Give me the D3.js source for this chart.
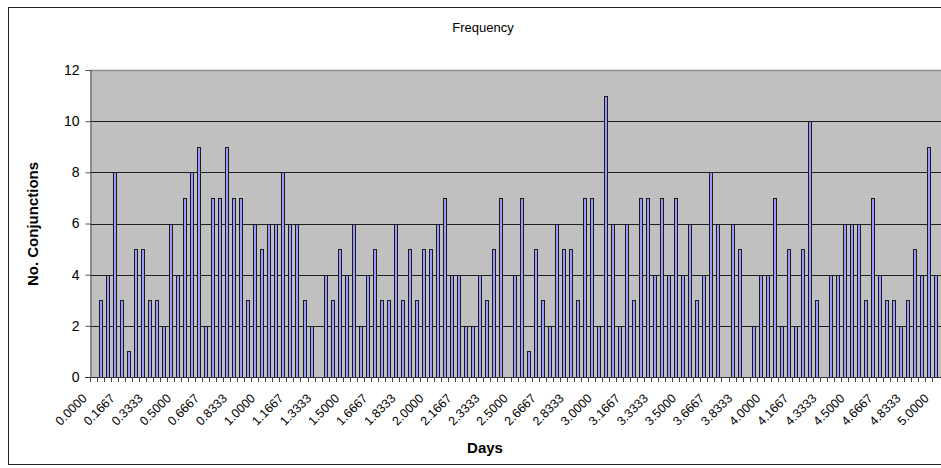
<!DOCTYPE html>
<html>
<head>
<meta charset="utf-8">
<script src="https://cdn.jsdelivr.net/npm/d3@7"></script>
<style>
  html, body { margin: 0; padding: 0; background: #fff; }
  svg { display: block; }
  text { font-family: "Liberation Sans", Arial, sans-serif; fill: #000; }
</style>
</head>
<body>
<svg id="chart" width="941" height="468"></svg>
<script>
// Days: one category per hour (1/24 day) from 0 to 5 days
const categoryStepDays = 1 / 24;
const categoryCount = 121;
const categories = d3.range(categoryCount).map(i => (i * categoryStepDays).toFixed(4));

// Number of conjunctions per category
const conjunctions = [
  0,3,4,8,3,1,5,5,3,3,2,6,4,7,8,9,2,7,7,9,7,7,3,6,5,6,
  6,8,6,6,3,2,0,4,3,5,4,6,2,4,5,3,3,6,3,5,3,5,5,6,
  7,4,4,2,2,4,3,5,7,0,4,7,1,5,3,2,6,5,5,3,7,7,2,11,
  6,2,6,3,7,7,4,7,4,7,4,6,3,4,8,6,0,6,5,0,2,4,4,7,2,
  5,2,5,10,3,0,4,4,6,6,6,3,7,4,3,3,2,3,5,4,9,4
];

const tickLabels = ["0.0000","0.1667","0.3333","0.5000","0.6667","0.8333","1.0000","1.1667","1.3333",
  "1.5000","1.6667","1.8333","2.0000","2.1667","2.3333","2.5000","2.6667","2.8333","3.0000","3.1667",
  "3.3333","3.5000","3.6667","3.8333","4.0000","4.1667","4.3333","4.5000","4.6667","4.8333","5.0000"];
const yTicks = [0, 2, 4, 6, 8, 10, 12];

const title = "Frequency";
const xTitle = "Days";
const yTitle = "No. Conjunctions";

const svg = d3.select("#chart");
const plot = { left: 90, right: 939, top: 70, bottom: 377 };

// outer chart border
svg.append("rect").attr("x", 8.5).attr("y", 7.5).attr("width", 960).attr("height", 457)
  .attr("fill", "#fff").attr("stroke", "#222").attr("stroke-width", 1);

const x = d3.scaleBand().domain(categories).range([plot.left, plot.right]).paddingInner(0).paddingOuter(0);
const y = d3.scaleLinear().domain([0, 12]).range([plot.bottom, plot.top]);

// plot area
svg.append("rect").attr("x", plot.left).attr("y", plot.top)
  .attr("width", plot.right - plot.left + 5).attr("height", plot.bottom - plot.top)
  .attr("fill", "#c0c0c0");
svg.append("line").attr("x1", plot.left).attr("x2", 941)
  .attr("y1", y(12) + 0.5).attr("y2", y(12) + 0.5).attr("stroke", "#8a8a8a").attr("stroke-width", 1.5);

// gridlines
svg.append("g").selectAll("line").data(yTicks.filter(d => d > 0 && d < 12)).join("line")
  .attr("x1", plot.left).attr("x2", 941)
  .attr("y1", d => Math.round(y(d)) + 0.5).attr("y2", d => Math.round(y(d)) + 0.5)
  .attr("stroke", "#1e1e1e").attr("stroke-width", 1);

// bars
const bw = 3;
svg.append("g").selectAll("rect").data(categories.map((c, i) => ({ c, v: conjunctions[i] })))
  .join("rect")
  .filter(d => d.v > 0)
  .attr("x", d => Math.round(x(d.c) + x.bandwidth() / 2 - bw / 2) + 0.5)
  .attr("y", d => Math.round(y(d.v)) + 0.5)
  .attr("width", bw)
  .attr("height", d => Math.round(y(0)) - Math.round(y(d.v)))
  .attr("fill", "#9999ff")
  .attr("stroke", "#1a1a1a")
  .attr("stroke-width", 1);

// y axis
const yAxis = d3.axisLeft(y).tickValues(yTicks).tickSize(5).tickPadding(6).tickFormat(d3.format("d"));
const gy = svg.append("g").attr("transform", `translate(${plot.left + 0.5},0)`).call(yAxis);
gy.select(".domain").attr("stroke", "#555");
gy.selectAll(".tick line").attr("stroke", "#555");
gy.selectAll("text").style("font-size", "14px").attr("fill", "#000");

// x axis: tick marks at category boundaries
const gx = svg.append("g");
gx.append("line").attr("x1", plot.left - 5).attr("x2", 941)
  .attr("y1", plot.bottom + 0.5).attr("y2", plot.bottom + 0.5).attr("stroke", "#333");
gx.selectAll("line.tk").data(categories).join("line").attr("class", "tk")
  .attr("x1", d => Math.round(x(d)) + 0.5).attr("x2", d => Math.round(x(d)) + 0.5)
  .attr("y1", plot.bottom).attr("y2", plot.bottom + 5)
  .attr("stroke", "#444");

// x tick labels (every 4th category)
gx.selectAll("text.lbl").data(tickLabels).join("text").attr("class", "lbl")
  .attr("transform", d => `translate(${x(d) + x.bandwidth() / 2 - 9},${plot.bottom + 19}) rotate(-45)`)
  .attr("text-anchor", "end")
  .attr("dy", "0.35em")
  .style("font-size", "12.5px")
  .text(d => d);

// titles
svg.append("text").attr("x", 483).attr("y", 32).attr("text-anchor", "middle")
  .style("font-size", "13px").text(title);
svg.append("text").attr("x", 485).attr("y", 453).attr("text-anchor", "middle")
  .style("font-size", "15px").style("font-weight", "bold").text(xTitle);
svg.append("text").attr("transform", "translate(38,224) rotate(-90)").attr("text-anchor", "middle")
  .style("font-size", "15px").style("font-weight", "bold").text(yTitle);
</script>
</body>
</html>
